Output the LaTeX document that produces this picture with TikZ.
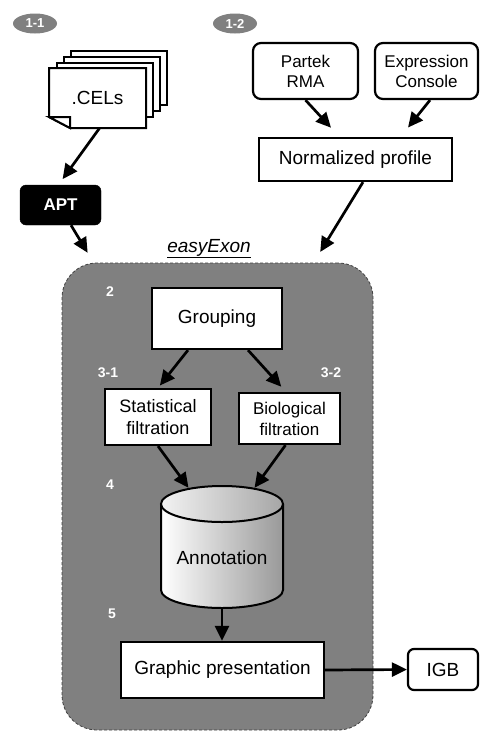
\documentclass[tikz,border=0pt]{standalone}
\usepackage{fontspec}
\setmainfont{Liberation Sans}
\usetikzlibrary{shapes.geometric,arrows.meta,calc}
\definecolor{bgray}{RGB}{128,128,128}
\begin{document}
\begin{tikzpicture}[x=1pt,y=-1pt,
  pbox/.style={draw=black, line width=2.2pt, fill=white, inner sep=0pt, align=center, font=\fontsize{19}{22}\selectfont},
  sbox/.style={pbox, rounded corners=8pt, font=\fontsize{17}{20}\selectfont},
  arr/.style={line width=2.7pt, -{Triangle[length=15pt,width=14pt]}},
  num/.style={text=white, inner sep=0pt, font=\fontsize{14}{14}\selectfont\bfseries},
  badge/.style={ellipse, fill=bgray, minimum width=44pt, minimum height=20pt, inner sep=0pt, text=white, font=\fontsize{13}{13}\selectfont\bfseries},
  pagebox/.style={draw=black, line width=2pt, fill=white, line join=miter}]
\useasboundingbox (0,0) rectangle (480,731);

% badges
\node[badge] (b11) at (35,23.5) {1-1};
\node[badge] (b12) at (235,23.5) {1-2};

% stacked documents
\draw[pagebox] (71,51) rectangle (167,105);
\draw[pagebox] (64,57) rectangle (160,111);
\draw[pagebox] (57,63) rectangle (153,117);
\draw[pagebox] (49,68) -- (146,68) -- (146,128) -- (70,128) -- (49,117) -- cycle;
\draw[pagebox] (49,117) -- (70,117) -- (70,128) -- cycle;
\node[inner sep=0pt, minimum width=97pt, minimum height=60pt, font=\fontsize{19}{22}\selectfont] (cels) at (97.5,98) {.CELs};

% APT
\node[draw=black, fill=black, rounded corners=6pt, minimum width=81pt, minimum height=40pt, inner sep=0pt, text=white, font=\fontsize{17}{20}\selectfont\bfseries] (apt) at (60.5,205) {APT};

% top right inputs
\node[sbox, minimum width=105pt, minimum height=56pt] (partek) at (305.5,71) {Partek\\RMA};
\node[sbox, minimum width=103pt, minimum height=56pt] (expr) at (426.5,71) {Expression\\Console};
\node[pbox, minimum width=193pt, minimum height=43pt] (norm) at (355.5,159.5) {Normalized profile};

% easyExon container
\node[draw=black!75, fill=bgray, rounded corners=35pt, line width=0.8pt, dash pattern=on 3pt off 2pt, minimum width=311pt, minimum height=467pt, inner sep=0pt] (easy) at (217.5,496.5) {};
\node[anchor=base, inner sep=0pt, font=\fontsize{19}{22}\selectfont\itshape] (title) at (209,252) {\underline{easyExon}};

% step numbers
\node[num] (n2) at (110,292) {2};
\node[num] (n31) at (108,373) {3-1};
\node[num] (n32) at (331,373) {3-2};
\node[num] (n4) at (110,485) {4};
\node[num] (n5) at (112,614) {5};

% boxes inside
\node[pbox, minimum width=130pt, minimum height=61pt] (group) at (217,318.5) {Grouping};
\node[pbox, minimum width=106pt, minimum height=56pt, font=\fontsize{18}{22}\selectfont] (stat) at (158,417) {Statistical\\filtration};
\node[pbox, minimum width=101pt, minimum height=51pt, font=\fontsize{17}{21}\selectfont] (bio) at (289.5,418.5) {Biological\\filtration};

% cylinder
\node[inner sep=0pt, minimum width=122pt, minimum height=122pt] (ann) at (222,547) {};
\fill[left color=white, right color=black!40] (161,504) -- (161,590)
  arc[start angle=180, end angle=360, x radius=61pt, y radius=18pt] -- (283,504)
  arc[start angle=0, end angle=180, x radius=61pt, y radius=18pt] -- cycle;
\draw[line width=2pt] (161,504) -- (161,590)
  arc[start angle=180, end angle=360, x radius=61pt, y radius=18pt] -- (283,504);
\draw[line width=2pt, left color=white!95!black, right color=black!35] (222,504) ellipse[x radius=61pt, y radius=18pt];
\node[inner sep=0pt, font=\fontsize{19}{22}\selectfont] (anntext) at ([yshift=-11pt]ann.center) {Annotation};

\node[pbox, minimum width=203pt, minimum height=56pt] (graph) at (222.5,670) {Graphic presentation};
\node[pbox, rounded corners=6pt, minimum width=70pt, minimum height=41pt] (igb) at (443,669.5) {IGB};

% connectors
\draw[arr, shorten >=7pt] ([xshift=2pt]cels.south) -- ([xshift=-2pt]apt.north);
\draw[arr, shorten >=11.5pt] ([xshift=10.5pt]apt.south) -- ([xshift=32pt]easy.north west);
\draw[arr, shorten >=12.5pt] ([xshift=7.5pt]norm.south) -- ([xshift=-59.7pt]easy.north east);
\draw[arr, shorten >=12.5pt] (partek.south) -- ([xshift=-16pt]norm.north);
\draw[arr, shorten >=12pt] ([xshift=3.5pt]expr.south) -- ([xshift=45pt]norm.north);
\draw[arr, shorten >=3pt] ([xshift=-29pt]group.south) -- (stat.north);
\draw[arr, shorten >=7pt] ([xshift=31pt]group.south) -- ([xshift=-3.5pt]bio.north);
\draw[arr] (stat.south) -- ([xshift=-33.5pt,yshift=-2pt]ann.north);
\draw[arr] ([xshift=-4pt]bio.south) -- ([xshift=32.5pt,yshift=-2pt]ann.north);
\draw[arr] (ann.south) -- ([xshift=-0.5pt]graph.north);
\draw[arr] (graph.east) -- (igb.west);
\end{tikzpicture}
\end{document}
